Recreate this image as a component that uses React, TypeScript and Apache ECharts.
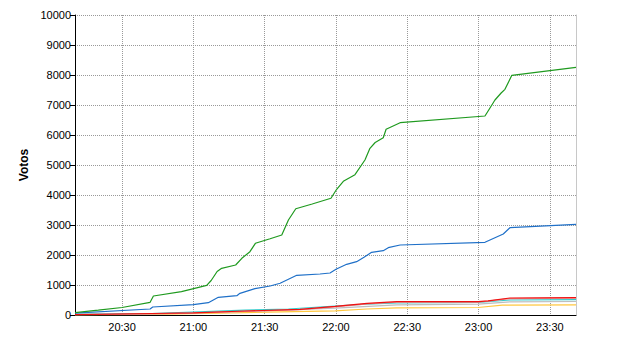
import React, { useEffect, useRef } from "react";
import * as echarts from "echarts";

// time in minutes after 20:00, votes
const xMin = 10.2;
const xMax = 221;
const xTickMinutes = [30, 60, 90, 120, 150, 180, 210];

const greenData: [number, number][] = [
  [10.2, 80], [20, 160], [30, 250], [41.8, 423], [43.2, 633], [55, 780], [65.6, 990],
  [67.5, 1150], [70, 1450], [71.9, 1555], [77.8, 1667], [80.4, 1890], [83.8, 2110],
  [86.1, 2390], [92.3, 2543], [97.2, 2667], [100, 3167], [103.1, 3543], [110, 3700],
  [117.9, 3890], [120.3, 4190], [123.1, 4457], [128, 4677], [132.2, 5167], [134.3, 5557],
  [136.5, 5750], [139.9, 5910], [141.1, 6190], [147, 6410], [182.7, 6633], [186.9, 7167],
  [189.5, 7400], [191.1, 7523], [194, 7990], [221, 8257],
];
const blueData: [number, number][] = [
  [10.2, 60], [41.8, 200], [42.9, 267], [60, 343], [66.3, 410], [70.5, 590], [78.3, 643],
  [79.6, 723], [85.9, 877], [92.3, 967], [96.5, 1057], [103.5, 1323], [113.3, 1367],
  [117.5, 1400], [120, 1523], [124.5, 1690], [128.7, 1777], [131.8, 1923], [135, 2090],
  [139.9, 2143], [142, 2243], [147, 2333], [182.7, 2423], [190.4, 2700], [193.2, 2910],
  [221, 3023],
];
const redData: [number, number][] = [
  [10.2, 10], [42.6, 50], [60, 70], [81.7, 133], [104.9, 190], [119.6, 290], [133.1, 390],
  [145.6, 443], [179.8, 443], [184, 470], [193.2, 567], [221, 580],
];
const salmonData: [number, number][] = [
  [10.2, 8], [42.6, 40], [60, 60], [81.7, 120], [104.9, 175], [119.6, 270], [133.1, 370],
  [145.6, 425], [179.8, 430], [184, 460], [193.2, 545], [221, 560],
];
const cyanData: [number, number][] = [
  [10.2, 20], [42.6, 50], [81.7, 160], [100, 200], [119.6, 300], [133, 360], [145.6, 400],
  [179.8, 420], [193.2, 500], [221, 510],
];
const grayData: [number, number][] = [
  [10.2, 15], [42.6, 40], [81.7, 120], [119.6, 230], [145.6, 340], [179.8, 360],
  [193.2, 440], [221, 450],
];
const yellowData: [number, number][] = [
  [10.2, 5], [42.6, 20], [81.7, 80], [119.6, 140], [133, 200], [145.6, 240], [179.8, 250],
  [190, 330], [221, 340],
];

const seriesList = [
  { name: "amarelo", data: yellowData, color: "#ffc840" },
  { name: "cinza", data: grayData, color: "#bdbdbd" },
  { name: "ciano", data: cyanData, color: "#33cccc" },
  { name: "salmao", data: salmonData, color: "#f08a8a" },
  { name: "vermelho", data: redData, color: "#ee1111" },
  { name: "azul", data: blueData, color: "#1f70c8" },
  { name: "verde", data: greenData, color: "#1f9a1f" },
];

const fmt = (v: number) => {
  const h = 20 + Math.floor(v / 60);
  const m = Math.round(v % 60);
  return `${h}:${m < 10 ? "0" + m : m}`;
};

export default function App() {
  const ref = useRef<HTMLDivElement>(null);
  useEffect(() => {
    if (!ref.current) return;
    const chart = echarts.init(ref.current, undefined, { renderer: "svg" });
    chart.setOption({
      animation: false,
      backgroundColor: "#ffffff",
      grid: { left: 75, top: 15, right: 64, bottom: 35, containLabel: false },
      xAxis: {
        type: "value",
        min: xMin,
        max: xMax,
        axisLine: { show: true, onZero: false, lineStyle: { color: "#000", width: 1 } },
        axisTick: { show: false, customValues: xTickMinutes },
        axisLabel: {
          customValues: xTickMinutes,
          formatter: (v: number) => fmt(v),
          color: "#000",
          fontFamily: "Liberation Sans, Arial, sans-serif",
          fontSize: 11,
          margin: 6,
        },
        splitLine: { show: true, lineStyle: { color: "#999", type: "dotted", width: 1 } },
      },
      yAxis: [
        {
          type: "value",
          min: 0,
          max: 10000,
          interval: 1000,
          name: "Votos",
          nameLocation: "middle",
          nameGap: 38,
          nameTextStyle: {
            color: "#000",
            fontWeight: "bold",
            fontSize: 12,
            fontFamily: "Liberation Sans, Arial, sans-serif",
          },
          axisLine: { show: true, lineStyle: { color: "#000", width: 1 } },
          axisTick: { show: true, length: 5, lineStyle: { color: "#000" } },
          axisLabel: {
            color: "#000",
            fontFamily: "Liberation Sans, Arial, sans-serif",
            fontSize: 11,
            margin: 4,
            formatter: (v: number) => String(v),
          },
          splitLine: { show: true, lineStyle: { color: "#999", type: "dotted", width: 1 } },
        },
        {
          type: "value",
          position: "right",
          min: 0,
          max: 10000,
          interval: 1000,
          axisLine: { show: true, lineStyle: { color: "#c8c8c8", width: 1 } },
          axisTick: { show: false },
          axisLabel: { show: false },
          splitLine: { show: false },
        },
      ],
      series: seriesList.map((s) => ({
        type: "line",
        name: s.name,
        data: s.data,
        yAxisIndex: 0,
        showSymbol: false,
        symbol: "none",
        lineStyle: { color: s.color, width: 1.2 },
        itemStyle: { color: s.color },
      })),
    });
    return () => chart.dispose();
  }, []);
  return <div ref={ref} style={{ width: 640, height: 350, margin: -8 }} />;
}
